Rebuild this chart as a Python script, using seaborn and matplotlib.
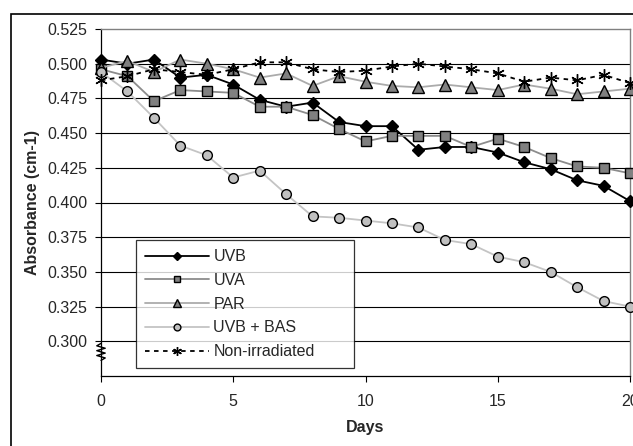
import matplotlib
matplotlib.use("Agg")
import matplotlib.pyplot as plt
from matplotlib.lines import Line2D
from matplotlib.patches import Rectangle
import seaborn as sns
import pandas as pd

days = list(range(21))
uvb = [0.503, 0.500, 0.503, 0.490, 0.492, 0.485, 0.474, 0.469, 0.472, 0.458, 0.455,
       0.455, 0.438, 0.440, 0.440, 0.436, 0.429, 0.424, 0.416, 0.412, 0.401]
uva = [0.496, 0.491, 0.473, 0.481, 0.480, 0.479, 0.469, 0.469, 0.463, 0.453, 0.444,
       0.448, 0.448, 0.448, 0.440, 0.446, 0.440, 0.432, 0.426, 0.425, 0.421]
par = [0.497, 0.502, 0.494, 0.503, 0.500, 0.496, 0.490, 0.493, 0.484, 0.491, 0.487,
       0.484, 0.483, 0.485, 0.483, 0.481, 0.485, 0.482, 0.478, 0.480, 0.482]
uvb_bas = [0.494, 0.480, 0.461, 0.441, 0.434, 0.418, 0.423, 0.406, 0.390, 0.389, 0.387,
           0.385, 0.382, 0.373, 0.370, 0.361, 0.357, 0.350, 0.339, 0.329, 0.325]
non_irr = [0.488, 0.491, 0.496, 0.494, 0.492, 0.496, 0.501, 0.501, 0.496, 0.494, 0.495,
           0.498, 0.500, 0.498, 0.496, 0.493, 0.487, 0.490, 0.488, 0.492, 0.486]

y_ticks = [0.300, 0.325, 0.350, 0.375, 0.400, 0.425, 0.450, 0.475, 0.500, 0.525]
x_ticks = [0, 5, 10, 15, 20]

series = [
    ("UVB", uvb, dict(color="black", marker="D", markerfacecolor="black", markersize=6, linestyle="-")),
    ("UVA", uva, dict(color="#8c8c8c", marker="s", markerfacecolor="#808080", markersize=7, linestyle="-")),
    ("PAR", par, dict(color="#ababab", marker="^", markerfacecolor="#808080", markersize=8, linestyle="-")),
    ("UVB + BAS", uvb_bas, dict(color="#c4c4c4", marker="o", markerfacecolor="#c0c0c0", markersize=7, linestyle="-")),
    ("Non-irradiated", non_irr, dict(color="black", marker=(6, 2, 0), markerfacecolor="black", markersize=9,
                                     linestyle=(0, (2.5, 2.5)))),
]

sns.set_style("white")
plt.rcParams["font.family"] = ["Liberation Sans", "DejaVu Sans"]

fig = plt.figure(figsize=(6.33, 4.46), dpi=100)
ax = fig.add_axes([101 / 633, 1 - 376 / 446, 529 / 633, 347 / 446])

for name, vals, st in series:
    df = pd.DataFrame({"Days": days, "val": vals})
    sns.lineplot(data=df, x="Days", y="val", ax=ax, label=name, color=st["color"],
                 marker=st["marker"], markerfacecolor=st["markerfacecolor"], markeredgecolor="black",
                 markeredgewidth=1.0, markersize=st["markersize"], linestyle=st["linestyle"],
                 linewidth=1.3, clip_on=False, zorder=3)

ax.set_xlim(0, 20)
ax.set_ylim(0.275, 0.525)
ax.set_xticks(x_ticks)
ax.set_yticks(y_ticks)
ax.set_yticklabels([f"{v:.3f}" for v in y_ticks])
for v in y_ticks[:-1]:
    ax.axhline(v, color="black", linewidth=0.8, zorder=1)

ax.tick_params(axis="y", direction="out", length=4, width=0.8, color="black",
               labelsize=11.5, pad=6, left=True)
ax.tick_params(axis="x", direction="out", length=4, width=0.8, color="black",
               labelsize=11.5, pad=9, bottom=True)
ax.set_xlabel("Days", fontsize=11.5, fontweight="bold", labelpad=8)
ax.set_ylabel("Absorbance (cm-1)", fontsize=11.5, fontweight="bold", labelpad=5)

for side in ["top", "right"]:
    ax.spines[side].set_color("#808080")
    ax.spines[side].set_linewidth(1.0)
for side in ["left", "bottom"]:
    ax.spines[side].set_color("black")
    ax.spines[side].set_linewidth(0.9)

# axis break mark on the y axis
zz_x = [0, 0.008, -0.008, 0.008, -0.008, 0.008, -0.008, 0]
zz_y = [0.045, 0.052, 0.059, 0.066, 0.073, 0.080, 0.087, 0.094]
ax.add_line(Line2D(zz_x, zz_y, transform=ax.transAxes, color="black", linewidth=1.0,
                   clip_on=False, zorder=4))

leg = ax.legend(loc="lower left", bbox_to_anchor=(0.066, 0.023, 0.412, 0.37), mode="expand",
                borderaxespad=0, frameon=True, fancybox=False, edgecolor="black", fontsize=11.5,
                handlelength=4.0, handletextpad=0.3, labelspacing=0.55, borderpad=0.55,
                markerscale=0.7)
leg.get_frame().set_linewidth(0.9)
leg.set_zorder(5)

# outer chart frame, cropped by the picture edges
fig.patches.append(Rectangle((11 / 633, -0.1), 1.2, 1 - 14 / 446 + 0.1, transform=fig.transFigure,
                             fill=False, edgecolor="black", linewidth=1.2))

fig.savefig("out.png", dpi=100)
